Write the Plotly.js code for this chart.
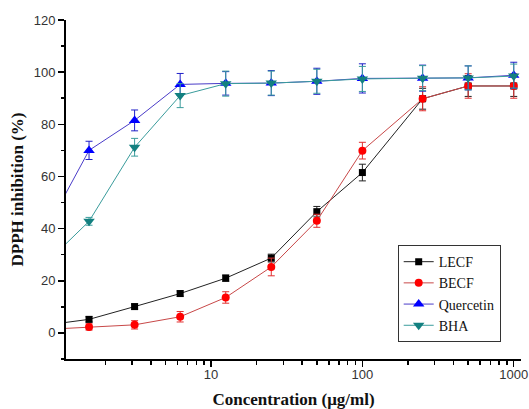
<!DOCTYPE html>
<html>
<head>
<meta charset="utf-8">
<script src="https://cdn.plot.ly/plotly-3.0.1.min.js"></script>
<style>html,body{margin:0;padding:0;background:#fff;}#chart{width:529px;height:409px;}</style>
</head>
<body>
<div id="chart"></div>
<script>
// Concentrations (µg/ml); first value lies left of the visible axis range (lines enter from the edge)
const concentration = [0.78125, 1.5625, 3.125, 6.25, 12.5, 25, 50, 100, 250, 500, 1000];

const lecf      = [2.9, 5.2, 10.1, 15.1, 21.0, 28.7, 46.5, 61.5, 89.8, 94.7, 94.7];
const lecfErr   = [0.8, 1.0, 1.0, 1.0, 1.2, 1.5, 2.0, 3.2, 4.0, 4.0, 4.0];

const becf      = [1.3, 2.3, 3.1, 6.2, 13.6, 25.3, 43.0, 69.9, 89.8, 94.7, 94.7];
const becfErr   = [0.8, 1.2, 1.6, 2.0, 2.2, 3.4, 2.5, 3.2, 4.6, 4.7, 4.7];

const quercetin    = [37.7, 70.0, 81.5, 95.3, 95.7, 95.8, 96.5, 97.6, 97.7, 97.8, 98.8];
const quercetinErr = [3.0, 3.5, 4.0, 4.2, 4.5, 4.8, 5.0, 5.6, 5.0, 4.6, 5.0];

const bha       = [25.8, 42.8, 71.2, 91.0, 95.6, 95.8, 96.5, 97.4, 97.7, 97.8, 98.5];
const bhaErr    = [1.5, 1.5, 3.4, 4.6, 4.8, 4.6, 4.6, 4.8, 4.8, 4.6, 4.6];

const seriesNames = ['LECF', 'BECF', 'Quercetin', 'BHA'];

function trace(name, y, err, lineColor, markerColor, errColor, symbol, size) {
  return {
    type: 'scatter', mode: 'lines+markers', name: name,
    x: concentration, y: y,
    line: {color: lineColor, width: 1},
    marker: {symbol: symbol, size: size, color: markerColor, line: {width: 0}},
    error_y: {type: 'data', array: err, visible: true, color: errColor, thickness: 1, width: 3.5},
    cliponaxis: true
  };
}

const data = [
  trace(seriesNames[0], lecf, lecfErr, '#222222', '#000000', '#222222', 'square', 7),
  trace(seriesNames[1], becf, becfErr, '#c84848', '#ff0000', '#e03030', 'circle', 8),
  trace(seriesNames[2], quercetin, quercetinErr, '#4a3cc8', '#0000ff', '#2020c8', 'triangle-up', 10),
  trace(seriesNames[3], bha, bhaErr, '#3a9c9c', '#138080', '#3a9c9c', 'triangle-down', 10)
];

const tickFont = {family: 'Liberation Sans, Arial, sans-serif', size: 13, color: '#333333'};
const titleFont = {family: 'Liberation Serif, Times New Roman, serif', size: 17, color: '#111111', weight: 'bold'};

const layout = {
  width: 529, height: 409,
  margin: {l: 66, r: 8, t: 20, b: 50},
  paper_bgcolor: '#ffffff', plot_bgcolor: '#ffffff',
  showlegend: true,
  legend: {
    x: 0.729, y: 0.193, xanchor: 'left', yanchor: 'middle',
    bgcolor: '#ffffff', bordercolor: '#333333', borderwidth: 1,
    font: {family: 'Liberation Serif, Times New Roman, serif', size: 14, color: '#111111'},
    tracegroupgap: 0
  },
  xaxis: {
    type: 'log', range: [0.0416, 3.048],
    dtick: 1, tick0: 0,
    ticks: 'outside', ticklen: 6, tickwidth: 1.5, tickcolor: '#000',
    minor: {ticks: 'outside', ticklen: 4, tickwidth: 1.5, tickcolor: '#000', dtick: 'D1'},
    showline: true, linecolor: '#000', linewidth: 2,
    showgrid: false, zeroline: false,
    tickfont: tickFont, ticklabelstandoff: -4,
    title: {text: 'Concentration (μg/ml)', font: titleFont, standoff: 16}
  },
  yaxis: {
    range: [-10, 120], dtick: 20, tick0: 0,
    ticks: 'outside', ticklen: 6, tickwidth: 1.5, tickcolor: '#000',
    minor: {ticks: 'outside', ticklen: 3, tickwidth: 1.5, tickcolor: '#000', dtick: 10},
    showline: true, linecolor: '#000', linewidth: 2,
    showgrid: false, zeroline: false,
    tickfont: tickFont,
    title: {text: 'DPPH inhibition (%)', font: titleFont, standoff: 6}
  }
};

Plotly.newPlot('chart', data, layout, {staticPlot: true, displayModeBar: false});
</script>
</body>
</html>
